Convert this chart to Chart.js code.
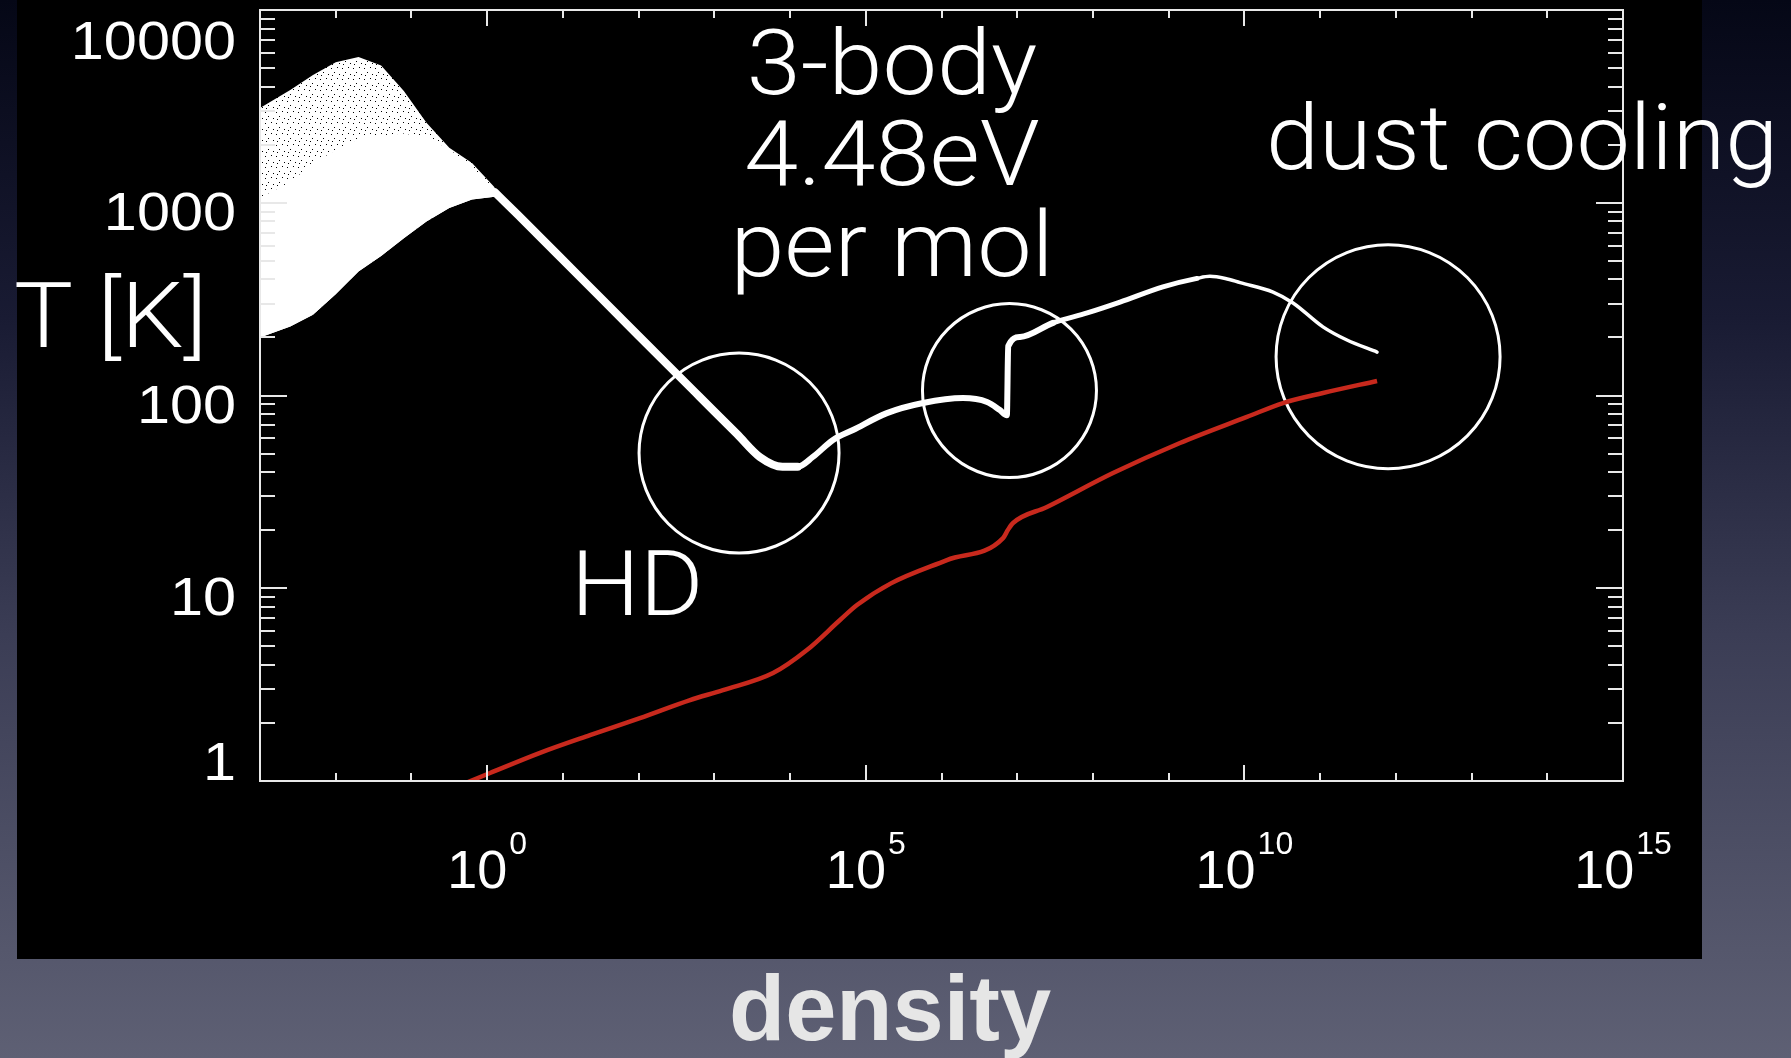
<!DOCTYPE html>
<html>
<head>
<meta charset="utf-8">
<title>Temperature vs density</title>
<script src="https://cdn.jsdelivr.net/npm/chart.js@4.4.1/dist/chart.umd.min.js"></script>
<style>
  html, body { margin: 0; padding: 0; overflow: hidden; background: #000; }
  #wrap { position: relative; width: 1791px; height: 1058px; }
</style>
</head>
<body>
<div id="wrap"><canvas id="chart" width="1791" height="1058"></canvas></div>
<script>
  // scattered gas at low density (envelopes of the particle cloud)
  const cloudDensity = [1e-3, 2.51e-3, 5.01e-3, 1e-2, 2e-2, 3.98e-2, 7.94e-2, 0.158, 0.316, 0.631, 1.26];
  const cloudLow  = [200, 228, 262, 335, 440, 530, 655, 800, 940, 1040, 1075];
  const cloudCore = [1060, 1280, 1600, 1880, 2140, 2230, 2290, 2180, 1900, 1520, 1180];
  const cloudHigh = [3100, 3850, 4600, 5350, 5700, 5150, 3800, 2600, 1930, 1610, 1200];

  // gas temperature track (white)
  const gasDensity = [1.26, 2.51, 15.8, 100, 631, 2000, 3980, 7940, 12600, 20000, 36900, 67800,
    1.9e5, 5.7e5, 1.92e6, 4.0e6, 5.9e6, 7.3e6, 7.6e6, 1.09e7, 2.97e7, 8.4e7, 2.28e8, 8.4e8, 2.37e9,
    3.5e9, 5.6e9, 8.8e9, 2.39e10, 4.39e10, 1.09e11, 2.26e11, 5.65e11];
  const gasTemp = [1135, 871, 422, 204, 99, 63, 48, 42.7, 42.7, 48, 58.8, 66.2,
    81, 91.4, 97, 92.5, 84, 79, 180, 201, 238, 268, 305, 366, 405,
    415, 405, 385, 344, 302, 227, 194, 168];

  // dust temperature track (red)
  const dustDensity = [0.5, 1.09, 4.99, 22.8, 104, 478, 1300, 5960, 16700, 45700, 76600, 2.15e5, 1.18e6,
    6.5e6, 7.55e6, 8.8e6, 2.47e7, 1.84e8, 1.41e9, 1.08e10, 3.24e10, 1.09e11, 5.65e11];
  const dustTemp = [0.97, 1.10, 1.40, 1.73, 2.12, 2.63, 2.96, 3.63, 4.78, 6.84, 8.18, 10.6, 14.0,
    18.2, 20.1, 21.8, 26.4, 39.6, 56.7, 77.4, 91.4, 103, 119];

  // highlighted regions (HD, 3-body, dust cooling)
  const ringDensity = [2.12e3, 7.9e6, 7.9e11];
  const ringTemp = [50.3, 106, 159];
  const ringRadius = [100, 87, 112];

  // axes
  const yTickValues = [1, 10, 100, 1000, 10000];
  const yTickLabels = ['1', '10', '100', '1000', '10000'];
  const xTickValues = [1, 1e5, 1e10, 1e15];
  const xTickExponents = ['0', '5', '10', '15'];

  const pts = (xs, ys) => xs.map((x, i) => ({ x: x, y: ys[i] }));

  const annoFont = '300 90px Roboto, "Liberation Sans", sans-serif';
  const tickFont = '54px "Liberation Sans", Arial, sans-serif';
  const supFont = '32px "Liberation Sans", Arial, sans-serif';

  // speckled white for the sparse part of the particle cloud
  function speckle() {
    const c = document.createElement('canvas');
    c.width = 11; c.height = 11;
    const t = c.getContext('2d');
    t.fillStyle = '#fff';
    t.fillRect(0, 0, 11, 11);
    t.fillStyle = '#000';
    [[1, 2], [7, 1], [4, 6], [9, 8], [2, 9]].forEach(p => t.fillRect(p[0], p[1], 1, 1));
    return t.createPattern(c, 'repeat');
  }

  // text stretched horizontally to match the wider slide font
  function wideText(ctx, text, x, y, sx, align) {
    ctx.save();
    ctx.translate(x, y);
    ctx.scale(sx, 1);
    ctx.textAlign = align;
    ctx.fillText(text, 0, 0);
    ctx.restore();
  }

  const framePlugin = {
    id: 'frame',
    beforeDraw(chart) {
      const ctx = chart.ctx;
      ctx.save();
      const g = ctx.createLinearGradient(0, 0, 0, chart.height);
      g.addColorStop(0, '#050716');
      g.addColorStop(0.3, '#191b33');
      g.addColorStop(0.6, '#3b3d55');
      g.addColorStop(1, '#5e6074');
      ctx.fillStyle = g;
      ctx.fillRect(0, 0, chart.width, chart.height);
      ctx.fillStyle = '#000';
      ctx.fillRect(17, 0, 1685, 959);
      ctx.restore();
    },
    afterDatasetsDraw(chart) {
      const ctx = chart.ctx;
      const a = chart.chartArea;
      const xs = chart.scales.x, ys = chart.scales.y;
      ctx.save();
      ctx.strokeStyle = '#e8e8e8';
      ctx.lineWidth = 2;
      ctx.strokeRect(a.left, a.top, a.right - a.left, a.bottom - a.top);

      // decade ticks on the density axis, pointing inward
      ctx.beginPath();
      for (let e = -2; e <= 14; e++) {
        const px = Math.round(xs.getPixelForValue(Math.pow(10, e)));
        const len = (e % 5 === 0) ? 16 : 8;
        ctx.moveTo(px, a.bottom); ctx.lineTo(px, a.bottom - len);
        ctx.moveTo(px, a.top); ctx.lineTo(px, a.top + len);
      }
      // log minor ticks on the temperature axis
      for (let d = 0; d < 4; d++) {
        for (let m = 1; m <= 9; m++) {
          if (d === 0 && m === 1) continue;
          const py = Math.round(ys.getPixelForValue(m * Math.pow(10, d)));
          const len = (m === 1) ? 27 : 15;
          ctx.moveTo(a.left, py); ctx.lineTo(a.left + len, py);
          ctx.moveTo(a.right, py); ctx.lineTo(a.right - len, py);
        }
      }
      ctx.stroke();

      // tick labels
      ctx.fillStyle = '#ffffff';
      ctx.font = tickFont;
      ctx.textBaseline = 'alphabetic';
      yTickValues.forEach((v, i) => {
        const py = ys.getPixelForValue(v);
        const base = Math.min(Math.max(py + 27, a.top + 49), a.bottom - 1);
        wideText(ctx, yTickLabels[i], a.left - 24, base, 1.1, 'right');
      });
      ctx.textAlign = 'left';
      xTickValues.forEach((v, i) => {
        const px = xs.getPixelForValue(v);
        ctx.font = tickFont;
        const w1 = ctx.measureText('10').width;
        ctx.font = supFont;
        const w2 = ctx.measureText(xTickExponents[i]).width;
        const x0 = px - (w1 + w2 + 2) / 2;
        ctx.font = tickFont;
        ctx.fillText('10', x0, 888);
        ctx.font = supFont;
        ctx.fillText(xTickExponents[i], x0 + w1 + 2, 854);
      });
      ctx.restore();
    },
    afterDraw(chart) {
      const ctx = chart.ctx;
      ctx.save();
      ctx.fillStyle = '#ffffff';
      ctx.font = annoFont;
      ctx.textBaseline = 'alphabetic';
      wideText(ctx, '3-body', 892, 94, 1.08, 'center');
      wideText(ctx, '4.48eV', 892, 185, 1.08, 'center');
      wideText(ctx, 'per mol', 892, 276, 1.08, 'center');
      wideText(ctx, 'dust cooling', 1266, 169, 1.06, 'left');
      wideText(ctx, 'T [K]', 14, 347, 1.1, 'left');
      wideText(ctx, 'HD', 571, 615, 1.08, 'left');
      ctx.fillStyle = '#e6e6e6';
      ctx.font = 'bold 92px "Liberation Sans", Arial, sans-serif';
      ctx.textAlign = 'center';
      ctx.fillText('density', 890, 1040);
      ctx.restore();
    }
  };

  const gasWidth = c => {
    const x = c.p0.parsed.x;
    if (x < 1.2e4) return 8;
    if (x < 1.1e7) return 6;
    if (x < 2e9) return 5;
    return 3.5;
  };

  new Chart(document.getElementById('chart'), {
    type: 'line',
    data: {
      datasets: [
        {
          label: 'gas',
          data: pts(gasDensity, gasTemp),
          borderColor: '#ffffff',
          borderWidth: 6,
          segment: { borderWidth: gasWidth },
          pointRadius: 0,
          cubicInterpolationMode: 'monotone',
          borderJoinStyle: 'round',
          borderCapStyle: 'round',
          fill: false
        },
        {
          label: 'dust',
          data: pts(dustDensity, dustTemp),
          borderColor: '#c8291d',
          borderWidth: 4.5,
          pointRadius: 0,
          cubicInterpolationMode: 'monotone',
          borderJoinStyle: 'round',
          fill: false
        },
        {
          type: 'bubble',
          label: 'rings',
          data: ringDensity.map((x, i) => ({ x: x, y: ringTemp[i], r: ringRadius[i] })),
          borderColor: '#ffffff',
          backgroundColor: 'rgba(0,0,0,0)',
          borderWidth: 3
        },
        {
          label: 'cloud core',
          data: pts(cloudDensity, cloudCore),
          borderWidth: 0,
          pointRadius: 0,
          backgroundColor: '#ffffff',
          fill: 5
        },
        {
          label: 'cloud halo',
          data: pts(cloudDensity, cloudHigh),
          borderWidth: 0,
          pointRadius: 0,
          backgroundColor: speckle(),
          fill: 5
        },
        {
          label: 'cloud low',
          data: pts(cloudDensity, cloudLow),
          borderWidth: 0,
          pointRadius: 0,
          fill: false
        }
      ]
    },
    options: {
      responsive: false,
      animation: false,
      layout: { autoPadding: false, padding: { left: 260, top: 10, right: 168, bottom: 277 } },
      plugins: { legend: { display: false }, tooltip: { enabled: false } },
      scales: {
        x: { type: 'logarithmic', min: 1e-3, max: 1e15, display: false },
        y: { type: 'logarithmic', min: 1, max: 1e4, display: false }
      }
    },
    plugins: [framePlugin]
  });
</script>
</body>
</html>
